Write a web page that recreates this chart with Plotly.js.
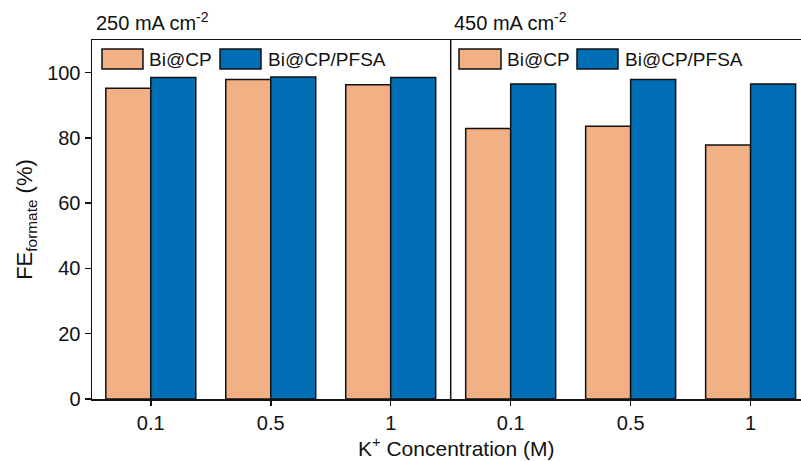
<!DOCTYPE html>
<html>
<head>
<meta charset="utf-8">
<script src="https://cdn.plot.ly/plotly-3.0.1.min.js"></script>
<style>html,body{margin:0;padding:0;background:#fff;}#chart{width:801px;height:461px;}</style>
</head>
<body>
<div id="chart"></div>
<script>
// Data
var concentrations = ["0.1", "0.5", "1", "0.1", "0.5", "1"];
var panels = ["250 mA cm<sup>-2</sup>", "450 mA cm<sup>-2</sup>"];
var seriesNames = ["Bi@CP", "Bi@CP/PFSA"];
var biCP = [95.2, 97.9, 96.3, 82.9, 83.6, 77.8];
var biCPPFSA = [98.5, 98.7, 98.5, 96.5, 97.9, 96.5];

var orange = "#F2B185";
var blue = "#006EB4";
var positions = concentrations.map(function(_, i){ return i; });

// pixel helpers (plot area: x 92..801, y 40..399)
var L = 92, R = 801, T = 40, B = 399;
function px(x){ return (x - L) / (R - L); }
function py(y){ return (B - y) / (B - T); }

var traces = [
  {type: "bar", x: positions, y: biCP, name: seriesNames[0],
   marker: {color: orange, line: {color: "#111", width: 1.5}}, showlegend: false},
  {type: "bar", x: positions, y: biCPPFSA, name: seriesNames[1],
   marker: {color: blue, line: {color: "#111", width: 1.5}}, showlegend: false}
];

var font = "Liberation Sans, Arial, sans-serif";
var shapes = [
  {type: "line", xref: "x", yref: "paper", x0: 2.5, x1: 2.5, y0: 0, y1: 1,
   line: {color: "#111", width: 1.5}}
];
var annotations = [];

// legends, one per panel
var legendSets = [
  {boxes: [[102, 143], [220, 261]], texts: [147, 266]},
  {boxes: [[459, 501], [577, 618]], texts: [505, 623]}
];
var colors = [orange, blue];
legendSets.forEach(function(ls){
  for (var k = 0; k < 2; k++) {
    shapes.push({type: "rect", xref: "paper", yref: "paper",
      x0: px(ls.boxes[k][0]), x1: px(ls.boxes[k][1]), y0: py(69), y1: py(49),
      fillcolor: colors[k], line: {color: "#111", width: 1.5}});
    annotations.push({xref: "paper", yref: "paper", x: px(ls.texts[k]), y: py(59.5),
      xanchor: "left", yanchor: "middle", showarrow: false, text: seriesNames[k],
      font: {family: font, size: 19, color: "#111"}});
  }
});

// panel titles
var titleX = [94, 452];
panels.forEach(function(t, i){
  annotations.push({xref: "paper", yref: "paper", x: px(titleX[i]), y: py(36),
    xanchor: "left", yanchor: "bottom", showarrow: false, text: t,
    font: {family: font, size: 20, color: "#111"}});
});

// x axis title
annotations.push({xref: "paper", yref: "paper", x: px(456), y: py(447),
  xanchor: "center", yanchor: "middle", showarrow: false,
  text: "K<sup>+</sup> Concentration (M)",
  font: {family: font, size: 21, color: "#111"}});

var layout = {
  width: 801, height: 461,
  margin: {l: L, r: 0, t: T, b: 461 - B, pad: 0},
  paper_bgcolor: "#fff", plot_bgcolor: "#fff",
  barmode: "group", bargap: 0.25, bargroupgap: 0,
  font: {family: font, size: 20, color: "#111"},
  xaxis: {
    type: "linear", range: [-0.49, 5.42],
    tickmode: "array", tickvals: positions, ticktext: concentrations,
    ticks: "outside", ticklen: 5, tickwidth: 1.5, tickcolor: "#111",
    showline: true, linecolor: "#111", linewidth: 1.5, mirror: true,
    showgrid: false, zeroline: false,
    tickfont: {family: font, size: 20, color: "#111"}
  },
  yaxis: {
    range: [0, 110], tickvals: [0, 20, 40, 60, 80, 100],
    ticks: "outside", ticklen: 6, tickwidth: 1.5, tickcolor: "#111",
    showline: true, linecolor: "#111", linewidth: 1.5, mirror: false,
    showgrid: false, zeroline: false,
    tickfont: {family: font, size: 20, color: "#111"},
    title: {text: "FE<sub>formate</sub> (%)", standoff: 8,
            font: {family: font, size: 22, color: "#111"}}
  },
  shapes: shapes,
  annotations: annotations
};

Plotly.newPlot("chart", traces, layout, {displayModeBar: false, staticPlot: true});
</script>
</body>
</html>
